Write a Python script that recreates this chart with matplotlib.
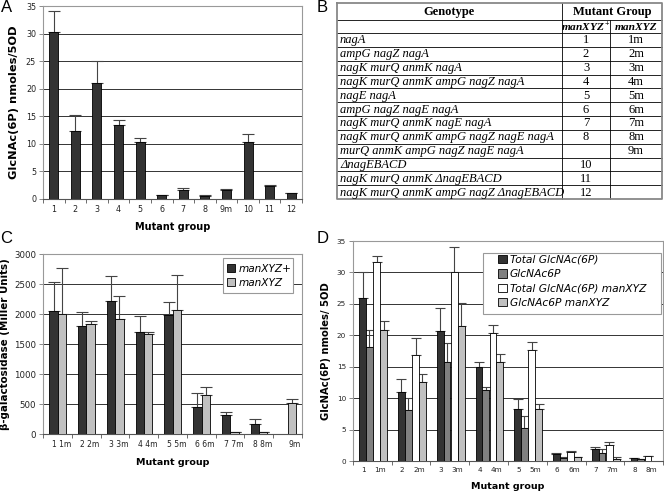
import numpy as np
import matplotlib
matplotlib.use("Agg")
import matplotlib.pyplot as plt
from matplotlib.patches import Patch, Rectangle

plt.rcParams['font.family'] = ['DejaVu Sans']
plt.rcParams['mathtext.fontset'] = 'custom'
plt.rcParams['mathtext.it'] = 'Liberation Serif:italic:bold'
plt.rcParams['mathtext.rm'] = 'Liberation Serif:bold'

# ---------------- data ----------------
# Panel A
a_groups = ['1', '2', '3', '4', '5', '6', '7', '8', '9m', '10', '11', '12']
a_vals = [30.2, 12.4, 21.0, 13.4, 10.3, 0.7, 1.6, 0.5, 1.7, 10.3, 2.4, 1.0]
a_err = [3.9, 2.9, 4.1, 0.9, 0.7, 0.1, 0.4, 0.15, 0.1, 1.4, 0.2, 0.1]

# Panel B (table)
genotypes = ['nagA', 'ampG nagZ nagA', 'nagK murQ anmK nagA',
             'nagK murQ anmK ampG nagZ nagA', 'nagE nagA',
             'ampG nagZ nagE nagA', 'nagK murQ anmK nagE nagA',
             'nagK murQ anmK ampG nagZ nagE nagA',
             'murQ anmK ampG nagZ nagE nagA', '\u0394nagEBACD',
             'nagK murQ anmK \u0394nagEBACD',
             'nagK murQ anmK ampG nagZ \u0394nagEBACD']
group_plus = ['1', '2', '3', '4', '5', '6', '7', '8', '', '10', '11', '12']
group_m = ['1m', '2m', '3m', '4m', '5m', '6m', '7m', '8m', '9m', '', '', '']

# Panel C
c_groups = ['1 1m', '2 2m', '3 3m', '4 4m', '5 5m', '6 6m', '7 7m', '8 8m', '9m']
c_plus = [2050, 1800, 2220, 1700, 1980, 450, 320, 170, np.nan]
c_plus_err = [480, 240, 410, 260, 220, 230, 40, 80, np.nan]
c_m = [2000, 1830, 1920, 1660, 2070, 650, 30, 30, 510]
c_m_err = [760, 50, 380, 40, 580, 140, 0, 0, 70]
c_legend = ['manXYZ+', 'manXYZ']

# Panel D
d_groups = ['1', '2', '3', '4', '5', '6', '7', '8']
d_total = [26.0, 11.0, 20.7, 15.0, 8.2, 1.1, 1.9, 0.45]
d_total_err = [4.0, 2.0, 3.7, 0.7, 1.6, 0.2, 0.3, 0.1]
d_6p = [18.2, 8.1, 15.7, 11.3, 5.3, 0.5, 1.3, 0.3]
d_6p_err = [2.6, 1.9, 3.0, 0.5, 1.8, 0.1, 0.6, 0.05]
d_total_m = [31.7, 16.8, 30.0, 20.4, 17.6, 1.4, 2.5, 0.75]
d_total_m_err = [0.9, 2.7, 4.0, 1.3, 1.4, 0.2, 0.5, 0.1]
d_6p_m = [20.8, 12.5, 21.4, 15.8, 8.3, 0.6, 0.3, np.nan]
d_6p_m_err = [1.5, 1.4, 3.8, 1.3, 0.7, 0.05, 0.3, np.nan]
d_legend = ['Total GlcNAc(6P)', 'GlcNAc6P', 'Total GlcNAc(6P) manXYZ',
            'GlcNAc6P manXYZ']

DARK = '#333333'
MID = '#808080'
WHITE = '#ffffff'
LIGHT = '#c0c0c0'

W, H = 664, 493
fig = plt.figure(figsize=(W / 100, H / 100), dpi=100)


def px_axes(l, t, r, b):
    return fig.add_axes([l / W, 1 - b / H, (r - l) / W, (b - t) / H])


def style(ax, n, ymax, ystep, tickfs):
    ax.set_xlim(-0.5, n - 0.5)
    ax.set_ylim(0, ymax)
    ax.set_yticks(np.arange(0, ymax + 1, ystep))
    ax.yaxis.grid(True, color='#333333', lw=0.7)
    ax.set_axisbelow(True)
    for s in ['top', 'right', 'left']:
        ax.spines[s].set_color('#999999')
        ax.spines[s].set_linewidth(0.8)
    ax.spines['bottom'].set_color('#555555')
    ax.spines['bottom'].set_linewidth(0.8)
    ax.set_xticks(np.arange(-0.5, n, 1), minor=True)
    ax.tick_params(axis='x', which='minor', length=3, width=0.6,
                   color='#555555', direction='out')
    ax.tick_params(axis='x', which='major', length=0, labelsize=tickfs,
                   pad=4, labelcolor='#222222')
    ax.tick_params(axis='y', length=3, width=0.6, color='#777777',
                   labelsize=tickfs, labelcolor='#222222', pad=2)


def errs(ax, x, v, e, capsize=4):
    x = np.asarray(x, float)
    v = np.asarray(v, float)
    e = np.asarray(e, float)
    ok = np.isfinite(v) & np.isfinite(e)
    ax.errorbar(x[ok], v[ok], yerr=[np.zeros(ok.sum()), e[ok]], fmt='none',
                ecolor='#444444', elinewidth=0.8, capsize=capsize,
                capthick=0.8, zorder=2)


def bars(ax, x, v, w, color):
    x = np.asarray(x, float)
    v = np.asarray(v, float)
    ok = np.isfinite(v)
    ax.bar(x[ok], v[ok], width=w, color=color, edgecolor='black',
           linewidth=0.6, zorder=3)


def boxed_legend(ax, colors, labels, box, anchor, fs, spacing):
    ax.add_patch(Rectangle((box[0], box[1]), box[2], box[3],
                           transform=ax.transAxes, facecolor='white',
                           edgecolor='#999999', lw=0.8, zorder=5,
                           clip_on=False))
    leg = ax.legend(handles=[Patch(facecolor=c, edgecolor='black', lw=0.6)
                             for c in colors],
                    labels=labels, loc='upper left', bbox_to_anchor=anchor,
                    prop={'style': 'italic', 'size': fs}, frameon=False,
                    handlelength=0.8, handleheight=0.8, handletextpad=0.3,
                    borderpad=0, labelspacing=spacing, borderaxespad=0)
    leg.set_zorder(6)
    return leg


# ---------------- Panel B: table ----------------
tax = fig.add_axes([0, 0, 1, 1])
tax.set_xlim(0, W)
tax.set_ylim(H, 0)
tax.axis('off')
cx = [337, 562, 610, 662]
top, r1, r2, bot = 3, 20, 33, 199
n_rows = len(genotypes)
rh = (bot - r2) / n_rows
row_y = [r2 + k * rh for k in range(n_rows + 1)]
for y in [r1] + row_y[:-1]:
    tax.plot([cx[0], cx[-1]], [y, y], color='black', lw=0.6)
tax.plot([cx[1], cx[1]], [top, bot], color='black', lw=0.6)
tax.plot([cx[2], cx[2]], [r1, bot], color='black', lw=0.6)
tax.plot([cx[0], cx[-1], cx[-1], cx[0], cx[0]], [top, top, bot, bot, top],
         color='#888888', lw=1.3)
sfont = 'Liberation Serif'
tfs = 9
tax.text((cx[0] + cx[1]) / 2, (top + r1) / 2 + 0.5, 'Genotype', family=sfont,
         weight='bold', fontsize=tfs, ha='center', va='center')
tax.text((cx[1] + cx[3]) / 2, (top + r1) / 2 + 0.5, 'Mutant Group', family=sfont,
         weight='bold', fontsize=tfs, ha='center', va='center')
tax.text((cx[1] + cx[2]) / 2, (r1 + r2) / 2 + 0.5, r'$manXYZ^{+}$',
         fontsize=tfs - 0.8, ha='center', va='center')
tax.text((cx[2] + cx[3]) / 2, (r1 + r2) / 2 + 0.5, 'manXYZ', family=sfont,
         weight='bold', style='italic', fontsize=tfs - 0.8, ha='center',
         va='center')
for k in range(n_rows):
    yc = (row_y[k] + row_y[k + 1]) / 2 + 0.5
    tax.text(cx[0] + 3, yc, genotypes[k], family=sfont, style='italic',
             fontsize=tfs, ha='left', va='center')
    tax.text((cx[1] + cx[2]) / 2, yc, group_plus[k], family=sfont,
             fontsize=tfs, ha='center', va='center')
    tax.text((cx[2] + cx[3]) / 2, yc, group_m[k], family=sfont,
             fontsize=tfs, ha='center', va='center')

# ---------------- Panel A ----------------
axA = px_axes(43, 6, 302, 199)
nA = len(a_groups)
xA = np.arange(nA)
bars(axA, xA, a_vals, 0.42, DARK)
errs(axA, xA, a_vals, a_err, capsize=4)
style(axA, nA, 35, 5, 5.8)
axA.set_xticks(xA)
axA.set_xticklabels(a_groups)
axA.set_ylabel('GlcNAc(6P) nmoles/5OD', fontsize=8.2, weight='bold', labelpad=5)
axA.set_xlabel('Mutant group', fontsize=7, weight='bold', labelpad=6)

# ---------------- Panel C ----------------
axC = px_axes(43, 254, 302, 434)
nC = len(c_groups)
xC = np.arange(nC)
bars(axC, xC - 0.135, c_plus, 0.29, DARK)
bars(axC, xC + 0.155, c_m, 0.29, LIGHT)
errs(axC, xC - 0.135, c_plus, c_plus_err, capsize=4)
errs(axC, xC + 0.155, c_m, c_m_err, capsize=4)
style(axC, nC, 3000, 500, 5.5)
axC.tick_params(axis='y', labelsize=6.2)
axC.set_xticks(xC + 0.47)
axC.set_xticklabels(c_groups, ha='right')
axC.set_ylabel('\u03b2-galactosidase (Miller Units)', fontsize=7.4,
               weight='bold', labelpad=3)
axC.set_xlabel('Mutant group', fontsize=6.8, weight='bold', labelpad=7)
boxed_legend(axC, [DARK, LIGHT], c_legend, (0.695, 0.783, 0.27, 0.195),
             (0.71, 0.945), 7.6, 0.4)

# ---------------- Panel D ----------------
axD = px_axes(353, 241, 663, 461)
nD = len(d_groups)
xD = np.arange(nD)
bw = 0.175
offs = [-0.25, -0.075, 0.115, 0.29]
series = [(d_total, d_total_err, DARK), (d_6p, d_6p_err, MID),
          (d_total_m, d_total_m_err, WHITE), (d_6p_m, d_6p_m_err, LIGHT)]
for off, (v, e, c) in zip(offs, series):
    bars(axD, xD + off, v, bw, c)
    errs(axD, xD + off, v, e, capsize=3.5)
style(axD, nD, 35, 5, 5.2)
d_pos = np.concatenate([[i - 0.23, i + 0.2] for i in xD])
d_labels = sum([[g, g + 'm'] for g in d_groups], [])
axD.set_xticks(d_pos)
axD.set_xticklabels(d_labels)
axD.set_ylabel('GlcNAc(6P) nmoles/ 5OD', fontsize=7.2, weight='bold', labelpad=4)
axD.set_xlabel('Mutant group', fontsize=6.8, weight='bold', labelpad=7)
boxed_legend(axD, [c for _, _, c in series], d_legend,
             (0.42, 0.668, 0.575, 0.277), (0.468, 0.938), 7.7, 0.42)

# ---------------- panel letters ----------------
for lab, x, y in [('A', 1, 0), ('B', 317, 0), ('C', 0, 231), ('D', 317, 231)]:
    fig.text(x / W, 1 - y / H, lab, fontsize=12, family='Liberation Sans',
             ha='left', va='top')

fig.savefig('out.png', dpi=100)
